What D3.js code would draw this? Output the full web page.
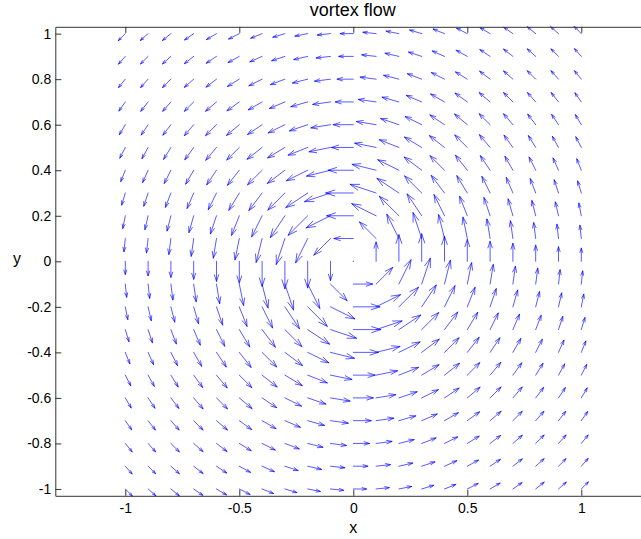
<!DOCTYPE html>
<html>
<head>
<meta charset="utf-8">
<script src="https://cdn.jsdelivr.net/npm/d3@7"></script>
<style>
  html, body { margin: 0; padding: 0; background: #fff; }
  svg { display: block; font-family: "Liberation Sans", Arial, Helvetica, sans-serif; }
</style>
</head>
<body>
<svg id="chart" width="641" height="539"></svg>
<script>
// Arrow tail positions: columns run left to right, rows top to bottom
const xs = [-1.0,-0.9,-0.8,-0.7,-0.6,-0.5,-0.4,-0.3,-0.2,-0.1,0,0.1,0.2,0.3,0.4,0.5,0.6,0.7,0.8,0.9,1.0];
const ys = [1.0,0.9,0.8,0.7,0.6,0.5,0.4,0.3,0.2,0.1,0,-0.1,-0.2,-0.3,-0.4,-0.5,-0.6,-0.7,-0.8,-0.9,-1.0];

// Horizontal arrow components (axis units), one row per ys entry
const uRows = [
  [-.031,-.034,-.037,-.040,-.044,-.047,-.050,-.053,-.056,-.058,-.058,-.058,-.056,-.053,-.050,-.047,-.044,-.040,-.037,-.034,-.031],
  [-.030,-.033,-.037,-.041,-.045,-.049,-.054,-.058,-.061,-.063,-.064,-.063,-.061,-.058,-.054,-.049,-.045,-.041,-.037,-.033,-.030],
  [-.030,-.033,-.037,-.041,-.046,-.052,-.058,-.063,-.067,-.070,-.071,-.070,-.067,-.063,-.058,-.052,-.046,-.041,-.037,-.033,-.030],
  [-.028,-.032,-.036,-.041,-.048,-.054,-.061,-.068,-.074,-.078,-.079,-.078,-.074,-.068,-.061,-.054,-.048,-.041,-.036,-.032,-.028],
  [-.026,-.030,-.035,-.041,-.048,-.056,-.064,-.073,-.080,-.086,-.088,-.086,-.080,-.073,-.064,-.056,-.048,-.041,-.035,-.030,-.026],
  [-.024,-.027,-.032,-.039,-.047,-.055,-.066,-.076,-.086,-.094,-.096,-.094,-.086,-.076,-.066,-.055,-.047,-.039,-.032,-.027,-.024],
  [-.020,-.024,-.029,-.035,-.043,-.052,-.064,-.077,-.093,-.105,-.110,-.105,-.093,-.077,-.064,-.052,-.043,-.035,-.029,-.024,-.020],
  [-.016,-.019,-.024,-.029,-.036,-.046,-.058,-.075,-.096,-.114,-.121,-.114,-.096,-.075,-.058,-.046,-.036,-.029,-.024,-.019,-.016],
  [-.011,-.014,-.017,-.021,-.027,-.034,-.046,-.064,-.086,-.107,-.117,-.107,-.086,-.064,-.046,-.034,-.027,-.021,-.017,-.014,-.011],
  [-.006,-.007,-.009,-.011,-.014,-.019,-.026,-.038,-.053,-.073,-.085,-.073,-.053,-.038,-.026,-.019,-.014,-.011,-.009,-.007,-.006],
  [0,0,0,0,0,0,0,0,0,0,0,0,0,0,0,0,0,0,0,0,0],
  [.006,.007,.009,.011,.014,.019,.026,.038,.053,.073,.085,.073,.053,.038,.026,.019,.014,.011,.009,.007,.006],
  [.011,.014,.017,.021,.027,.034,.046,.064,.086,.107,.117,.107,.086,.064,.046,.034,.027,.021,.017,.014,.011],
  [.016,.019,.024,.029,.036,.046,.058,.075,.096,.114,.121,.114,.096,.075,.058,.046,.036,.029,.024,.019,.016],
  [.020,.024,.029,.035,.043,.052,.064,.077,.093,.105,.110,.105,.093,.077,.064,.052,.043,.035,.029,.024,.020],
  [.024,.027,.032,.039,.047,.055,.066,.076,.086,.094,.096,.094,.086,.076,.066,.055,.047,.039,.032,.027,.024],
  [.026,.030,.035,.041,.048,.056,.064,.073,.080,.086,.088,.086,.080,.073,.064,.056,.048,.041,.035,.030,.026],
  [.028,.032,.036,.041,.048,.054,.061,.068,.074,.078,.079,.078,.074,.068,.061,.054,.048,.041,.036,.032,.028],
  [.030,.033,.037,.041,.046,.052,.058,.063,.067,.070,.071,.070,.067,.063,.058,.052,.046,.041,.037,.033,.030],
  [.030,.033,.037,.041,.045,.049,.054,.058,.061,.063,.064,.063,.061,.058,.054,.049,.045,.041,.037,.033,.030],
  [.031,.034,.037,.040,.044,.047,.050,.053,.056,.058,.058,.058,.056,.053,.050,.047,.044,.040,.037,.034,.031]
];

// Vertical arrow components (axis units), one row per ys entry
const vRows = [
  [-.031,-.030,-.030,-.028,-.026,-.024,-.020,-.016,-.011,-.006,0,.006,.011,.016,.020,.024,.026,.028,.030,.030,.031],
  [-.034,-.033,-.033,-.032,-.030,-.027,-.024,-.019,-.014,-.007,0,.007,.014,.019,.024,.027,.030,.032,.033,.033,.034],
  [-.037,-.037,-.037,-.036,-.035,-.032,-.029,-.024,-.017,-.009,0,.009,.017,.024,.029,.032,.035,.036,.037,.037,.037],
  [-.040,-.041,-.041,-.041,-.041,-.039,-.035,-.029,-.021,-.011,0,.011,.021,.029,.035,.039,.041,.041,.041,.041,.040],
  [-.044,-.045,-.046,-.048,-.048,-.047,-.043,-.036,-.027,-.014,0,.014,.027,.036,.043,.047,.048,.048,.046,.045,.044],
  [-.047,-.049,-.052,-.054,-.056,-.055,-.052,-.046,-.034,-.019,0,.019,.034,.046,.052,.055,.056,.054,.052,.049,.047],
  [-.050,-.054,-.058,-.061,-.064,-.066,-.064,-.058,-.046,-.026,0,.026,.046,.058,.064,.066,.064,.061,.058,.054,.050],
  [-.053,-.058,-.063,-.068,-.073,-.076,-.077,-.075,-.064,-.038,0,.038,.064,.075,.077,.076,.073,.068,.063,.058,.053],
  [-.056,-.061,-.067,-.074,-.080,-.086,-.093,-.096,-.086,-.053,0,.053,.086,.096,.093,.086,.080,.074,.067,.061,.056],
  [-.058,-.063,-.070,-.078,-.086,-.094,-.105,-.114,-.107,-.073,0,.073,.107,.114,.105,.094,.086,.078,.070,.063,.058],
  [-.058,-.064,-.071,-.079,-.088,-.096,-.110,-.121,-.117,-.085,0,.085,.117,.121,.110,.096,.088,.079,.071,.064,.058],
  [-.058,-.063,-.070,-.078,-.086,-.094,-.105,-.114,-.107,-.073,0,.073,.107,.114,.105,.094,.086,.078,.070,.063,.058],
  [-.056,-.061,-.067,-.074,-.080,-.086,-.093,-.096,-.086,-.053,0,.053,.086,.096,.093,.086,.080,.074,.067,.061,.056],
  [-.053,-.058,-.063,-.068,-.073,-.076,-.077,-.075,-.064,-.038,0,.038,.064,.075,.077,.076,.073,.068,.063,.058,.053],
  [-.050,-.054,-.058,-.061,-.064,-.066,-.064,-.058,-.046,-.026,0,.026,.046,.058,.064,.066,.064,.061,.058,.054,.050],
  [-.047,-.049,-.052,-.054,-.056,-.055,-.052,-.046,-.034,-.019,0,.019,.034,.046,.052,.055,.056,.054,.052,.049,.047],
  [-.044,-.045,-.046,-.048,-.048,-.047,-.043,-.036,-.027,-.014,0,.014,.027,.036,.043,.047,.048,.048,.046,.045,.044],
  [-.040,-.041,-.041,-.041,-.041,-.039,-.035,-.029,-.021,-.011,0,.011,.021,.029,.035,.039,.041,.041,.041,.041,.040],
  [-.037,-.037,-.037,-.036,-.035,-.032,-.029,-.024,-.017,-.009,0,.009,.017,.024,.029,.032,.035,.036,.037,.037,.037],
  [-.034,-.033,-.033,-.032,-.030,-.027,-.024,-.019,-.014,-.007,0,.007,.014,.019,.024,.027,.030,.032,.033,.033,.034],
  [-.031,-.030,-.030,-.028,-.026,-.024,-.020,-.016,-.011,-.006,0,.006,.011,.016,.020,.024,.026,.028,.030,.030,.031]
];

const xTicks = [-1, -0.5, 0, 0.5, 1];
const xTickLabels = ["-1", "-0.5", "0", "0.5", "1"];
const yTicks = [-1, -0.8, -0.6, -0.4, -0.2, 0, 0.2, 0.4, 0.6, 0.8, 1];
const yTickLabels = ["-1", "-0.8", "-0.6", "-0.4", "-0.2", "0", "0.2", "0.4", "0.6", "0.8", "1"];

const titleText = "vortex flow";
const xLabelText = "x";
const yLabelText = "y";

// ---- layout ----
const svg = d3.select("#chart");
const plot = { left: 55.3, right: 651.3, top: 26.8, bottom: 495.8 };

const x = d3.scaleLinear().domain([-1.307, 1.307]).range([plot.left, plot.right]);
const y = d3.scaleLinear().domain([-1.03, 1.03]).range([plot.bottom, plot.top]);

// ---- arrows (tail at grid point, two-stroke head) ----
const headLen = 0.33;   // head length relative to the arrow
const headWid = 0.33;   // head half-width relative to head length

const arrows = [];
ys.forEach((yv, j) => {
  xs.forEach((xv, i) => {
    arrows.push({ x: xv, y: yv, u: uRows[j][i], v: vRows[j][i] });
  });
});

function arrowPath(d) {
  const tx = d.x + d.u, ty = d.y + d.v;
  const h1x = tx - headLen * (d.u + headWid * d.v);
  const h1y = ty - headLen * (d.v - headWid * d.u);
  const h2x = tx - headLen * (d.u - headWid * d.v);
  const h2y = ty - headLen * (d.v + headWid * d.u);
  return `M${x(d.x)},${y(d.y)}L${x(tx)},${y(ty)}` +
         `M${x(h1x)},${y(h1y)}L${x(tx)},${y(ty)}L${x(h2x)},${y(h2y)}`;
}

svg.append("g")
  .attr("class", "arrows")
  .selectAll("path")
  .data(arrows)
  .join("path")
  .attr("d", arrowPath)
  .attr("fill", "none")
  .attr("stroke", "#0000ff")
  .attr("stroke-opacity", 0.72)
  .attr("stroke-width", 0.9)
  .attr("stroke-linecap", "round")
  .attr("stroke-linejoin", "miter");

// ---- axes (ticks point inward) ----
const axisColor = "#333";
const tickFont = 14;

const gBottom = svg.append("g")
  .attr("transform", `translate(0,${plot.bottom})`)
  .call(d3.axisBottom(x).tickValues(xTicks)
    .tickFormat((d, i) => xTickLabels[i])
    .tickSizeInner(-6).tickSizeOuter(0).tickPadding(7));

const gTop = svg.append("g")
  .attr("transform", `translate(0,${plot.top})`)
  .call(d3.axisTop(x).tickValues(xTicks).tickFormat(() => "")
    .tickSizeInner(-6).tickSizeOuter(0));

const gLeft = svg.append("g")
  .attr("transform", `translate(${plot.left},0)`)
  .call(d3.axisLeft(y).tickValues(yTicks)
    .tickFormat((d, i) => yTickLabels[i])
    .tickSizeInner(-6).tickSizeOuter(0).tickPadding(4));

const gRight = svg.append("g")
  .attr("transform", `translate(${plot.right},0)`)
  .call(d3.axisRight(y).tickValues(yTicks).tickFormat(() => "")
    .tickSizeInner(-6).tickSizeOuter(0));

[gBottom, gTop, gLeft, gRight].forEach(g => {
  g.select(".domain").attr("stroke", axisColor).attr("stroke-width", 1);
  g.selectAll(".tick line").attr("stroke", axisColor).attr("stroke-width", 1);
  g.selectAll(".tick text")
    .attr("fill", "#000")
    .style("font-family", '"Liberation Sans", Arial, sans-serif')
    .style("font-size", tickFont + "px");
});

// ---- title and axis labels ----
svg.append("text")
  .attr("x", (plot.left + plot.right) / 2 - 0.5)
  .attr("y", 16)
  .attr("text-anchor", "middle")
  .style("font-size", "18px")
  .attr("fill", "#000")
  .text(titleText);

svg.append("text")
  .attr("x", x(0))
  .attr("y", 533)
  .attr("text-anchor", "middle")
  .style("font-size", "16px")
  .attr("fill", "#000")
  .text(xLabelText);

svg.append("text")
  .attr("x", 17)
  .attr("y", 264)
  .attr("text-anchor", "middle")
  .style("font-size", "16px")
  .attr("fill", "#000")
  .text(yLabelText);
</script>
</body>
</html>
